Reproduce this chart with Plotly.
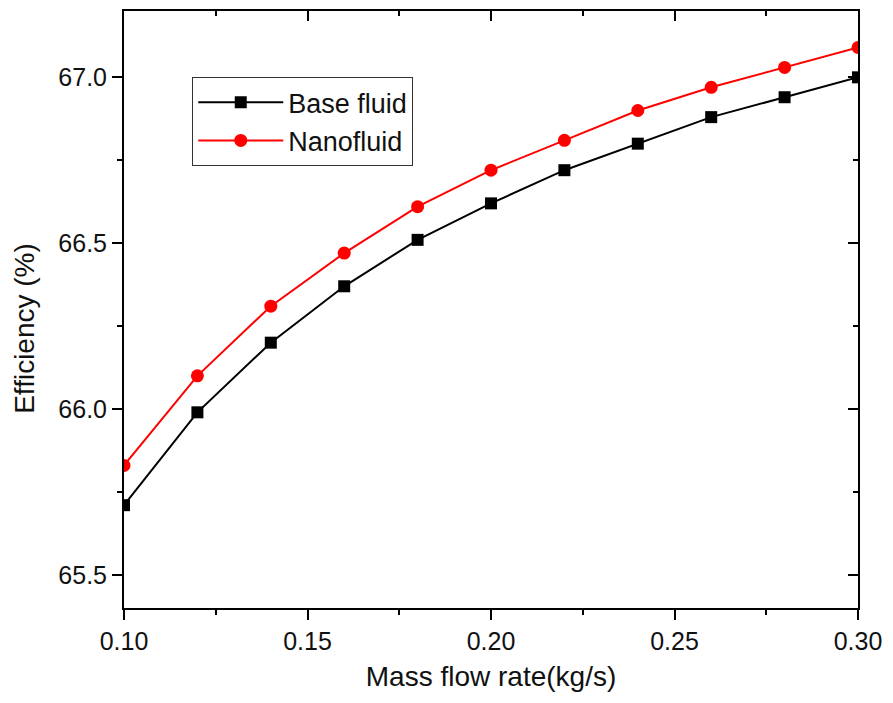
import plotly.graph_objects as go

# Mass flow rate (kg/s)
mass_flow = [0.10, 0.12, 0.14, 0.16, 0.18, 0.20, 0.22, 0.24, 0.26, 0.28, 0.30]
# Efficiency (%)
eff_base = [65.71, 65.99, 66.20, 66.37, 66.51, 66.62, 66.72, 66.80, 66.88, 66.94, 67.00]
eff_nano = [65.83, 66.10, 66.31, 66.47, 66.61, 66.72, 66.81, 66.90, 66.97, 67.03, 67.09]

x_range = [0.10, 0.30]
y_range = [65.40, 67.20]
font_family = "Arial, Liberation Sans, sans-serif"

fig = go.Figure()
fig.add_trace(go.Scatter(
    x=mass_flow, y=eff_base, mode="lines+markers", name="Base fluid",
    line=dict(color="black", width=2),
    marker=dict(symbol="square", size=12, color="black"),
))
fig.add_trace(go.Scatter(
    x=mass_flow, y=eff_nano, mode="lines+markers", name="Nanofluid",
    line=dict(color="#ff0000", width=2),
    marker=dict(symbol="circle", size=13, color="#ff0000"),
))
# invisible trace so the mirrored frame axes are drawn
fig.add_trace(go.Scatter(x=[None], y=[None], xaxis="x2", yaxis="y2",
                         showlegend=False, hoverinfo="skip"))

axis_common = dict(showline=True, linecolor="black", linewidth=2,
                   showgrid=False, zeroline=False, tickcolor="black",
                   tickwidth=2)

fig.update_layout(
    width=893, height=703,
    paper_bgcolor="white", plot_bgcolor="white",
    margin=dict(l=124, r=29, t=11, b=95),
    font=dict(family=font_family, size=25, color="#111111"),
    xaxis=dict(range=x_range, dtick=0.05, tick0=0.10, tickformat=".2f",
               ticks="outside", ticklen=10,
               minor=dict(dtick=0.025, ticklen=5, tickwidth=2, tickcolor="black", ticks="outside"),
               title=dict(text="Mass flow rate(kg/s)", font=dict(size=28), standoff=12),
               **axis_common),
    yaxis=dict(range=y_range, dtick=0.5, tick0=65.5, tickformat=".1f",
               ticks="outside", ticklen=10,
               minor=dict(dtick=0.25, ticklen=5, tickwidth=2, tickcolor="black", ticks="outside"),
               **axis_common),
    xaxis2=dict(range=x_range, overlaying="x", side="top", dtick=0.05, tick0=0.10,
                ticks="inside", ticklen=10, showticklabels=False,
                minor=dict(dtick=0.025, ticklen=5, tickwidth=2, tickcolor="black", ticks="inside"),
                **axis_common),
    yaxis2=dict(range=y_range, overlaying="y", side="right", dtick=0.5, tick0=65.5,
                ticks="inside", ticklen=10, showticklabels=False,
                minor=dict(dtick=0.25, ticklen=5, tickwidth=2, tickcolor="black", ticks="inside"),
                **axis_common),
    legend=dict(x=0.093, y=0.889, xanchor="left", yanchor="top",
                bgcolor="white", bordercolor="#333333", borderwidth=1,
                font=dict(size=27, color="#111111"), itemwidth=85,
                tracegroupgap=0),
    showlegend=True,
    annotations=[dict(
        text="Efficiency (%)", textangle=-90, showarrow=False,
        xref="paper", yref="paper", x=-0.1365, y=0.469,
        xanchor="center", yanchor="middle",
        font=dict(size=28, color="#111111"),
    )],
)

fig.write_html("out.html")
